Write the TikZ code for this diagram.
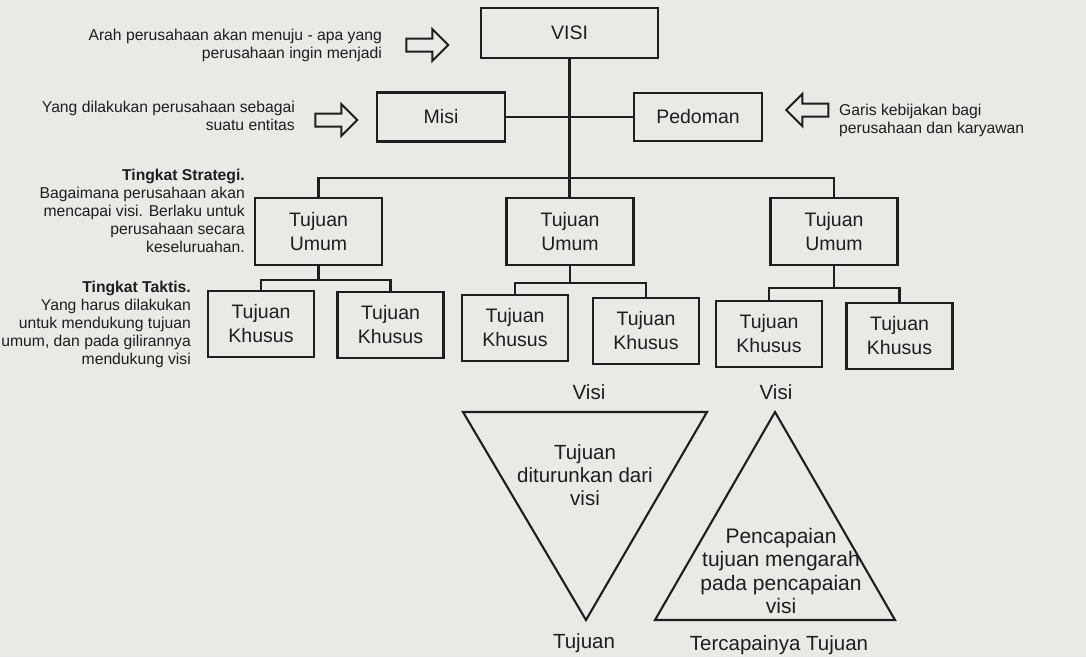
\documentclass[tikz,border=0pt]{standalone}
\usepackage{fontspec}
\setmainfont{Liberation Sans}
\usetikzlibrary{shapes.arrows}

\definecolor{paper}{HTML}{E9E9E6}
\definecolor{ink}{HTML}{1E1E1E}

\tikzset{
  box/.style={draw=ink, line width=2.1pt, inner sep=0pt, align=center, text=ink,
    font=\fontsize{19.5}{24}\selectfont},
  note/.style={text=ink, inner sep=0pt, font=\fontsize{15.7}{18}\selectfont},
  tritext/.style={text=ink, inner sep=0pt, align=center, font=\fontsize{20.5}{23}\selectfont},
  link/.style={draw=ink, line width=2.1pt},
  blockarrow/.style={single arrow, draw=ink, line width=2pt, minimum height=42pt,
    minimum width=30pt, single arrow head extend=9.5pt, single arrow head indent=0pt,
    inner xsep=0pt, inner ysep=5.5pt}
}

\begin{document}
\begin{tikzpicture}[x=1pt, y=-1pt]
\fill[paper] (0,0) rectangle (1086,657);
\useasboundingbox (0,0) rectangle (1086,657);

% top level
\node[box, minimum width=177pt, minimum height=50pt] (visi) at (569.5,33) {VISI};
\node[box, minimum width=128pt, minimum height=49pt] (misi) at (441,117) {Misi};
\node[box, minimum width=128pt, minimum height=48pt] (pedoman) at (698,117) {Pedoman};

% tujuan umum and tujuan khusus
\foreach \name/\x in {tum1/318.5, tum2/570, tum3/834}
  \node[box, minimum width=127pt, minimum height=67pt] (\name) at (\x,231.5) {Tujuan\\Umum};
\foreach \name/\x/\y in {tk1/261/324, tk2/390.5/325, tk3/515/328, tk4/646/331, tk5/769/334, tk6/899.5/336}
  \node[box, minimum width=106pt, minimum height=66pt] (\name) at (\x,\y) {Tujuan\\Khusus};

% connectors
\coordinate (bar) at (0,178);
\draw[link] (misi) -- (pedoman);
\draw[link] (visi.south) -- (visi.south |- tum2.north);
\draw[link] (tum1.north) -- (tum1.north |- bar) -- (tum3.north |- bar) -- (tum3.north);
\foreach \top/\l/\r/\y in {tum1/tk1/tk2/280, tum2/tk3/tk4/283, tum3/tk5/tk6/288}
  \draw[link] (\top.south) -- (\top.south |- 0,\y)
    (\l.north) -- (\l.north |- 0,\y) -- (\r.north |- 0,\y) -- (\r.north);

% block arrows
\node[blockarrow] (arah) at (424,45) {};
\node[blockarrow] (entitas) at (333,120) {};
\node[blockarrow, shape border rotate=180] (garis) at (810.5,110) {};

% notes
\node[note, anchor=east, align=right] (arahnote) at (382,45)
  {Arah perusahaan akan menuju - apa yang\\perusahaan ingin menjadi};
\node[note, anchor=east, align=right] (misinote) at (295,116)
  {Yang dilakukan perusahaan sebagai\\suatu entitas};
\node[note, anchor=west, align=left] (pedomannote) at (839,120)
  {Garis kebijakan bagi\\perusahaan dan karyawan};
\node[note, anchor=east, align=right] (strategi) at (245,211)
  {\textbf{Tingkat Strategi.}\\Bagaimana perusahaan akan\\mencapai visi. Berlaku untuk\\perusahaan secara\\keseluruahan.};
\node[note, anchor=east, align=right] (taktis) at (191,324)
  {\textbf{Tingkat Taktis.}\\Yang harus dilakukan\\untuk mendukung tujuan\\umum, dan pada gilirannya\\mendukung visi};

% triangles
\draw[link, line join=miter] (463,412) -- (707,412) -- (586,620) -- cycle;
\draw[link, line join=miter] (655,620) -- (895,620) -- (775,412) -- cycle;
\node[tritext] (visidown) at (589,392) {Visi};
\node[tritext] (visiup) at (776,392) {Visi};
\node[tritext] (turun) at (585,475) {Tujuan\\diturunkan dari\\visi};
\node[tritext, font=\fontsize{21}{23.5}\selectfont] (capai) at (781,571) {Pencapaian\\tujuan mengarah\\pada pencapaian\\visi};
\node[tritext] (tujuan) at (584,643) {Tujuan};
\node[tritext] (tercapai) at (779,645) {Tercapainya Tujuan};
\end{tikzpicture}
\end{document}
